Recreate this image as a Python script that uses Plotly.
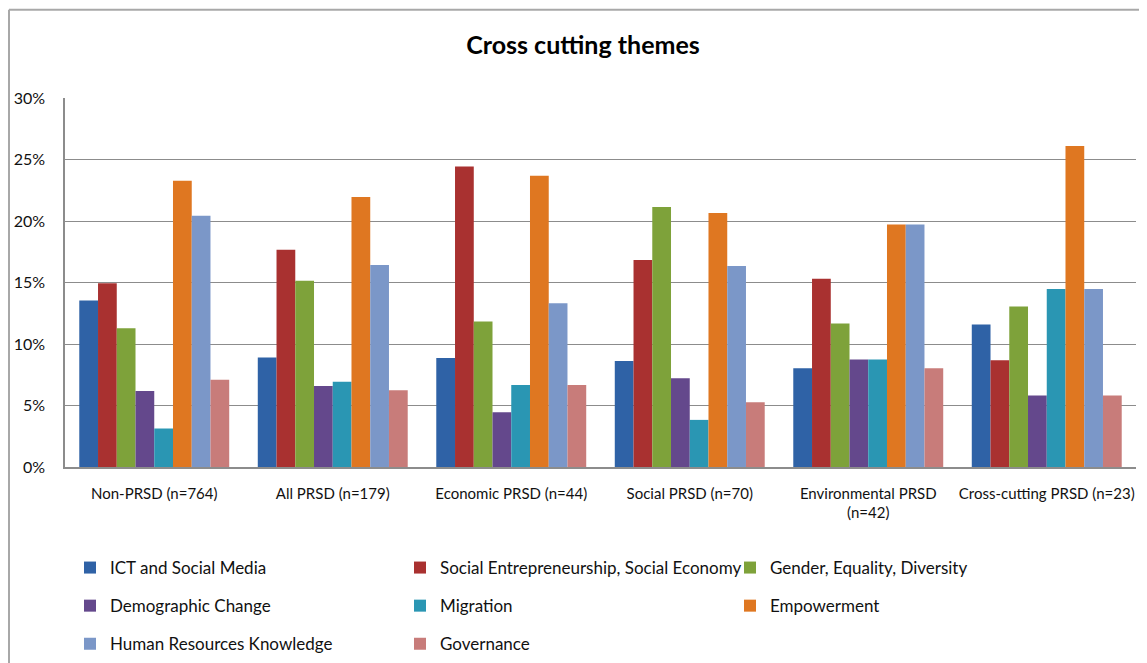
import plotly.graph_objects as go

# groups along the x axis
groups = ["Non-PRSD (n=764)", "All PRSD (n=179)", "Economic PRSD (n=44)",
          "Social PRSD (n=70)", "Environmental PRSD<br>(n=42)", "Cross-cutting PRSD (n=23)"]

# share of projects per theme
ict = [0.1353, 0.0891, 0.0886, 0.0861, 0.0802, 0.1159]
social_ent = [0.1493, 0.1766, 0.2444, 0.1682, 0.1531, 0.0867]
gender = [0.1129, 0.1515, 0.1183, 0.2114, 0.1167, 0.1304]
demographic = [0.0618, 0.0659, 0.0446, 0.0721, 0.0875, 0.0581]
migration = [0.0313, 0.0694, 0.0667, 0.0383, 0.0875, 0.1447]
empowerment = [0.2328, 0.2196, 0.2368, 0.2066, 0.1971, 0.2609]
human_res = [0.2042, 0.1642, 0.1331, 0.1634, 0.1971, 0.1447]
governance = [0.0710, 0.0624, 0.0667, 0.0527, 0.0802, 0.0581]

series = [
    ("ICT and Social Media", ict, "#2f62a6", "legend"),
    ("Social Entrepreneurship, Social Economy", social_ent, "#a93130", "legend2"),
    ("Gender, Equality, Diversity", gender, "#7ea23a", "legend3"),
    ("Demographic Change", demographic, "#64488c", "legend"),
    ("Migration", migration, "#2a96b3", "legend2"),
    ("Empowerment", empowerment, "#df7721", "legend3"),
    ("Human Resources Knowledge", human_res, "#7b97c8", "legend"),
    ("Governance", governance, "#c87c7a", "legend2"),
]

# the page puts the figure 8px in from the top-left corner
OFF = 8
W, H = 1147 - OFF, 663 - OFF
L, R, T, B = 65 - OFF, 11, 97.5 - OFF, 663 - 467.5
FONT = "Lato, Carlito, Calibri, sans-serif"

fig = go.Figure()
for i, (name, vals, col, lg) in enumerate(series):
    fig.add_trace(go.Bar(x=groups, y=vals, name=name, marker_color=col,
                         marker_line_width=0, legend=lg, legendgroup=str(i)))

pw, ph = W - L - R, H - T - B
def px_x(v):
    return (v - OFF - L) / pw
def px_y(v):
    return (H - B - (v - OFF)) / ph

legend_common = dict(orientation="v", xref="container", yref="container",
                     xanchor="left", yanchor="top", tracegroupgap=13,
                     font=dict(family=FONT, size=17, color="#111111"),
                     bgcolor="rgba(0,0,0,0)", itemwidth=30)
ly = 1 - (550 - OFF) / H

fig.update_layout(
    width=W, height=H,
    margin=dict(l=L, r=R, t=T, b=B, autoexpand=False),
    paper_bgcolor="white", plot_bgcolor="white",
    font=dict(family=FONT, size=15, color="#111111"),
    title=dict(text="<b>Cross cutting themes</b>", x=(583 - OFF) / W, xanchor="center",
               y=1 - (45 - OFF) / H, yanchor="middle", font=dict(size=25, color="#000000")),
    barmode="group", bargap=0.16, bargroupgap=0,
    showlegend=True,
    legend=dict(legend_common, x=(70 - OFF) / W, y=ly),
    legend2=dict(legend_common, x=(400 - OFF) / W, y=ly),
    legend3=dict(legend_common, x=(730 - OFF) / W, y=ly),
    xaxis=dict(showgrid=False, showline=True, linecolor="#8c8c8c", linewidth=1.5,
               ticks="", ticklabelstandoff=12, tickfont=dict(size=15)),
    yaxis=dict(range=[0, 0.30], dtick=0.05, tickformat=".0%", showgrid=True,
               gridcolor="#8c8c8c", gridwidth=1.3, showline=True, linecolor="#8c8c8c",
               linewidth=1.5, zeroline=False, ticks="", ticklabelstandoff=15,
               tickfont=dict(size=16)),
    shapes=[
        dict(type="line", xref="paper", yref="paper", x0=px_x(9), x1=px_x(9),
             y0=px_y(9), y1=px_y(670), line=dict(color="#a8a8a8", width=2)),
        dict(type="line", xref="paper", yref="paper", x0=px_x(9), x1=px_x(1150),
             y0=px_y(9), y1=px_y(9), line=dict(color="#a8a8a8", width=2)),
    ],
)

fig.write_html("out.html")
